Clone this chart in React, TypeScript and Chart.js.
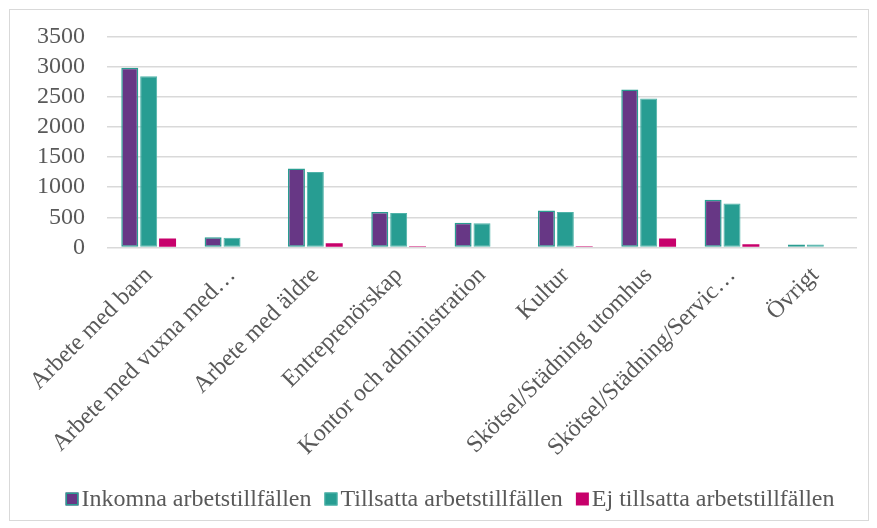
import React, { useEffect, useRef } from "react";
import { Chart, registerables } from "chart.js";

Chart.register(...registerables);

const categories = [
  "Arbete med barn",
  "Arbete med vuxna med…",
  "Arbete med äldre",
  "Entreprenörskap",
  "Kontor och administration",
  "Kultur",
  "Skötsel/Städning utomhus",
  "Skötsel/Städning/Servic…",
  "Övrigt",
];

const seriesNames = [
  "Inkomna arbetstillfällen",
  "Tillsatta arbetstillfällen",
  "Ej tillsatta arbetstillfällen",
];

const inkomna = [2980, 170, 1310, 590, 410, 615, 2620, 790, 50];
const tillsatta = [2840, 160, 1250, 570, 400, 590, 2470, 730, 50];
const ejTillsatta = [150, 0, 70, 20, 0, 20, 150, 55, 0];

const yTicks = [0, 500, 1000, 1500, 2000, 2500, 3000, 3500];

const FONT = '"Liberation Serif", "Times New Roman", serif';
const TEXT = "#595959";

const legendPlugin = {
  id: "customLegend",
  afterDraw(chart: any) {
    const ctx = chart.ctx;
    const opts = chart.options.plugins.customLegend;
    ctx.save();
    ctx.font = `${opts.fontSize}px ${FONT}`;
    ctx.textBaseline = "middle";
    ctx.textAlign = "left";
    const items = chart.data.datasets.map((ds: any) => ({
      text: ds.label,
      fill: ds.backgroundColor,
      stroke: ds.borderColor,
      bw: ds.borderWidth || 0,
      w: ctx.measureText(ds.label).width,
    }));
    const box = opts.box;
    const gap = opts.gap;
    const itemGap = opts.itemGap;
    let total = 0;
    items.forEach((it: any, i: number) => {
      total += box + gap + it.w + (i > 0 ? itemGap : 0);
    });
    let x = opts.centerX - total / 2;
    const y = opts.centerY;
    items.forEach((it: any) => {
      ctx.fillStyle = it.fill;
      ctx.fillRect(x, y - box / 2, box, box);
      if (it.bw > 0) {
        ctx.strokeStyle = it.stroke;
        ctx.lineWidth = it.bw;
        ctx.strokeRect(x + it.bw / 2, y - box / 2 + it.bw / 2, box - it.bw, box - it.bw);
      }
      ctx.fillStyle = TEXT;
      ctx.fillText(it.text, x + box + gap, y + 1);
      x += box + gap + it.w + itemGap;
    });
    ctx.restore();
  },
};

export default function App() {
  const ref = useRef<HTMLCanvasElement>(null);

  useEffect(() => {
    if (!ref.current) return;
    const chart = new Chart(ref.current, {
      type: "bar",
      data: {
        labels: categories,
        datasets: [
          {
            label: seriesNames[0],
            data: inkomna,
            backgroundColor: "#673785",
            borderColor: "#2a9d91",
            borderWidth: 1.5,
            borderSkipped: false,
            categoryPercentage: 0.68,
            barPercentage: 0.9,
          },
          {
            label: seriesNames[1],
            data: tillsatta,
            backgroundColor: "#279d92",
            borderColor: "#4fb3a9",
            borderWidth: 1,
            borderSkipped: false,
            categoryPercentage: 0.68,
            barPercentage: 0.9,
          },
          {
            label: seriesNames[2],
            data: ejTillsatta,
            backgroundColor: "#c7006b",
            borderWidth: 0,
            categoryPercentage: 0.68,
            barPercentage: 0.9,
          },
        ],
      },
      options: {
        animation: false,
        responsive: false,
        maintainAspectRatio: false,
        layout: { padding: { left: 15, right: 20, top: 28, bottom: 61 } },
        plugins: {
          legend: { display: false },
          tooltip: { enabled: false },
          customLegend: {
            fontSize: 24,
            box: 13,
            gap: 3,
            itemGap: 13,
            centerX: 450,
            centerY: 499,
          },
        } as any,
        scales: {
          x: {
            grid: { display: false, drawTicks: false },
            border: { display: false },
            ticks: {
              color: TEXT,
              font: { family: FONT, size: 24 },
              maxRotation: 45,
              minRotation: 45,
              autoSkip: false,
              padding: 14,
            },
          },
          y: {
            min: 0,
            max: 3500,
            afterBuildTicks: (axis: any) => {
              axis.ticks = yTicks.map((v) => ({ value: v }));
            },
            grid: { color: "#d9d9d9", lineWidth: 1.5, drawTicks: false },
            border: { display: false },
            ticks: {
              color: TEXT,
              font: { family: FONT, size: 24 },
              padding: 22,
              autoSkip: false,
              callback: (v: any) => String(v),
            },
          },
        },
      },
      plugins: [legendPlugin],
    });
    return () => chart.destroy();
  }, []);

  return (
    <div style={{ position: "absolute", left: 0, top: 0, width: 877, height: 528, background: "#fff" }}>
      <canvas ref={ref} width={877} height={528} style={{ display: "block" }} />
      <div
        style={{
          position: "absolute",
          left: 9,
          top: 9,
          width: 858,
          height: 510,
          border: "1px solid #d9d9d9",
          pointerEvents: "none",
        }}
      />
    </div>
  );
}
